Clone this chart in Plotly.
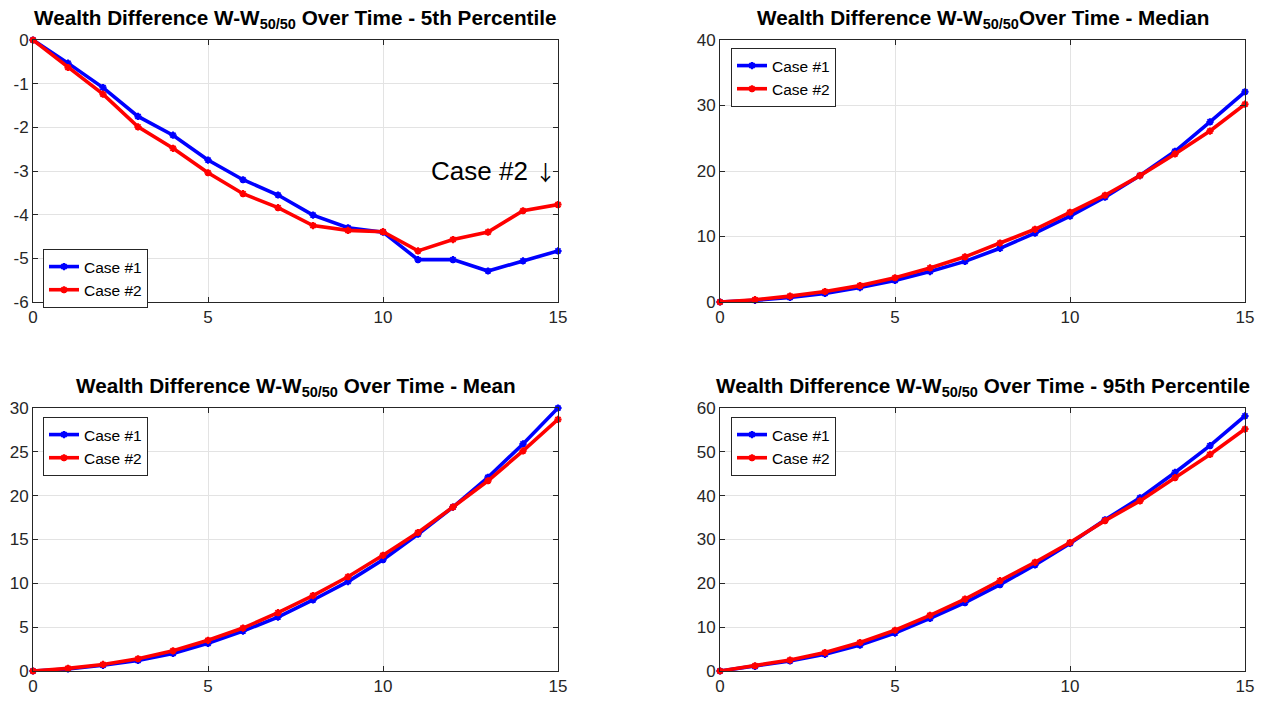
import plotly.graph_objects as go

years = list(range(16))

p5_case1 = [0, -0.53, -1.09, -1.75, -2.18, -2.75, -3.20, -3.55, -4.01, -4.30, -4.40, -5.03, -5.03, -5.29, -5.06, -4.83]
p5_case2 = [0, -0.63, -1.24, -1.99, -2.48, -3.04, -3.52, -3.84, -4.25, -4.36, -4.39, -4.83, -4.57, -4.40, -3.91, -3.77]

med_case1 = [0, 0.25, 0.7, 1.3, 2.2, 3.3, 4.65, 6.2, 8.2, 10.5, 13.1, 16.0, 19.3, 23.0, 27.5, 32.1]
med_case2 = [0, 0.35, 0.9, 1.6, 2.5, 3.7, 5.2, 6.9, 9.0, 11.1, 13.7, 16.3, 19.3, 22.6, 26.1, 30.2]

mean_case1 = [0, 0.23, 0.65, 1.2, 2.0, 3.15, 4.55, 6.15, 8.1, 10.2, 12.7, 15.6, 18.7, 22.1, 25.9, 30.0]
mean_case2 = [0, 0.30, 0.75, 1.4, 2.3, 3.5, 4.9, 6.65, 8.6, 10.75, 13.2, 15.8, 18.7, 21.7, 25.1, 28.7]

p95_case1 = [0, 1.05, 2.3, 3.8, 5.9, 8.65, 12.0, 15.6, 19.7, 24.2, 29.1, 34.5, 39.5, 45.3, 51.4, 58.2]
p95_case2 = [0, 1.2, 2.5, 4.2, 6.5, 9.3, 12.7, 16.4, 20.6, 24.8, 29.3, 34.3, 38.8, 44.1, 49.4, 55.2]

series_names = ["Case #1", "Case #2"]
colors = ["#0000ff", "#ff0000"]

titles = [
    "Wealth Difference W-W<sub>50/50</sub> Over Time - 5th Percentile",
    "Wealth Difference W-W<sub>50/50</sub>Over Time - Median",
    "Wealth Difference W-W<sub>50/50</sub> Over Time - Mean",
    "Wealth Difference W-W<sub>50/50</sub> Over Time - 95th Percentile",
]

x_ticks = [0, 5, 10, 15]
x_ticktext = ["0", "5", "10", "15"]
y_ticks = [
    [-6, -5, -4, -3, -2, -1, 0],
    [0, 10, 20, 30, 40],
    [0, 5, 10, 15, 20, 25, 30],
    [0, 10, 20, 30, 40, 50, 60],
]
y_ticktext = [
    ["-6", "-5", "-4", "-3", "-2", "-1", "0"],
    ["0", "10", "20", "30", "40"],
    ["0", "5", "10", "15", "20", "25", "30"],
    ["0", "10", "20", "30", "40", "50", "60"],
]
y_ranges = [[-6, 0], [0, 40], [0, 30], [0, 60]]
panel_series = [
    (p5_case1, p5_case2),
    (med_case1, med_case2),
    (mean_case1, mean_case2),
    (p95_case1, p95_case2),
]

W, H = 1265, 702


def fx(px):
    return px / W


def fy(py):
    return 1 - py / H


xdoms = [(fx(33), fx(558)), (fx(720), fx(1245))]
ydoms = [(fy(302), fy(40)), (fy(671), fy(408))]
title_y = [fy(19), fy(387)]

FONT = "Liberation Sans, Arial, Helvetica, sans-serif"
AX = "#262626"

fig = go.Figure()
layout = dict(
    width=W, height=H,
    margin=dict(l=0, r=0, t=0, b=0, pad=0, autoexpand=False),
    paper_bgcolor="white", plot_bgcolor="white",
    font=dict(family=FONT, size=17, color=AX),
    annotations=[],
)

legend_pos = [(fx(43), fy(249)), (fx(731), fy(48)), (fx(43), fy(417)), (fx(731), fy(417))]

for i, (s1, s2) in enumerate(panel_series):
    row, col = divmod(i, 2)
    n = "" if i == 0 else str(i + 1)
    lg = "legend" if i == 0 else f"legend{i + 1}"
    for name, vals, c in zip(series_names, [s1, s2], colors):
        fig.add_trace(go.Scatter(
            x=years, y=vals, name=name, mode="lines+markers",
            line=dict(color=c, width=3.6),
            marker=dict(symbol="asterisk-open", size=6, color=c, line=dict(color=c, width=2)),
            xaxis=f"x{n}", yaxis=f"y{n}", legend=lg, cliponaxis=False,
        ))
    common = dict(
        showgrid=True, gridcolor="#e3e3e3", gridwidth=1, zeroline=False,
        showline=True, linecolor=AX, linewidth=1, mirror="ticks",
        ticks="inside", ticklen=5, tickcolor=AX, tickwidth=1,
        tickfont=dict(family=FONT, size=17, color=AX),
        automargin=False,
    )
    layout[f"xaxis{n}"] = dict(domain=xdoms[col], anchor=f"y{n}", range=[0, 15],
                               tickmode="array", tickvals=x_ticks, ticktext=x_ticktext, **common)
    layout[f"yaxis{n}"] = dict(domain=ydoms[row], anchor=f"x{n}", range=y_ranges[i],
                               tickmode="array", tickvals=y_ticks[i], ticktext=y_ticktext[i], **common)
    lx, ly = legend_pos[i]
    layout[lg] = dict(
        x=lx, y=ly, xanchor="left", yanchor="top",
        bgcolor="white", bordercolor=AX, borderwidth=1,
        font=dict(family=FONT, size=15.5, color="black"),
        tracegroupgap=0, itemwidth=30,
    )
    cx = (xdoms[col][0] + xdoms[col][1]) / 2
    layout["annotations"].append(dict(
        text=f"<b>{titles[i]}</b>", x=cx, y=title_y[row],
        xref="paper", yref="paper", xanchor="center", yanchor="middle",
        showarrow=False, font=dict(family=FONT, size=20.7, color="black"),
    ))

layout["annotations"].append(dict(
    text="Case #2 <span style=\"font-family:'Noto Sans CJK JP';font-size:21px\">\u2193</span>",
    x=15, y=-3.0, xref="x", yref="y",
    xanchor="right", yanchor="middle", showarrow=False,
    font=dict(family=FONT, size=26, color="black"),
))

fig.update_layout(**layout)
fig.write_html("out.html")
